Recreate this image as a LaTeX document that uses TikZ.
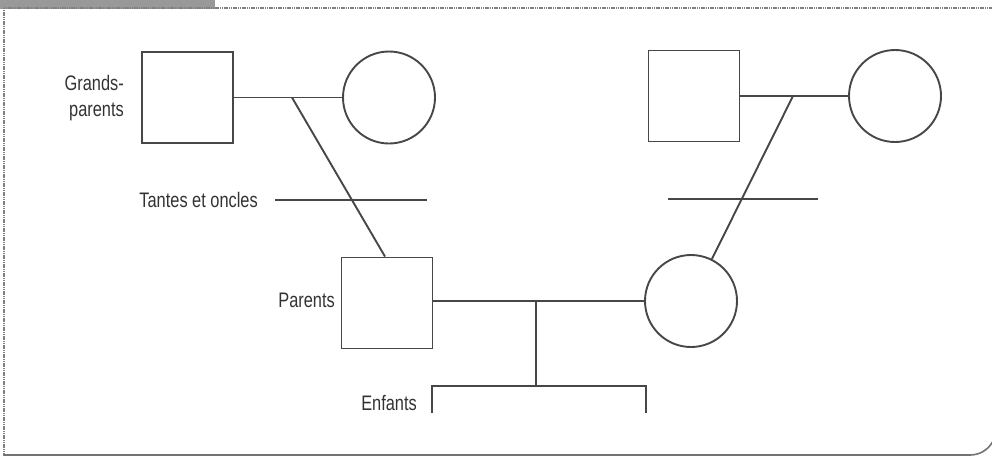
\documentclass[tikz,border=0pt]{standalone}
\usepackage{fontspec}
\setmainfont[FakeStretch=0.78]{Liberation Sans}
\begin{document}
\begin{tikzpicture}[x=1pt,y=-1pt,
  link/.style={draw=black!72,line width=1.9pt},
  male/.style={rectangle,draw=black!72,line width=1.9pt,minimum size=91pt,inner sep=0pt},
  female/.style={circle,draw=black!72,line width=1.9pt,minimum size=92pt,inner sep=0pt},
  lbl/.style={font=\fontsize{21}{26}\selectfont,text=black!80,inner sep=0pt},
  frame/.style={draw=black!50,line width=2.2pt,dash pattern=on 1.2pt off 0.6pt}]
\useasboundingbox (0,0) rectangle (992,459);
% page frame and header band
\fill[black!40] (0,0) rectangle (215,9);
\draw[white,line width=1.4pt] (17,0) arc[start angle=180,end angle=250,radius=14];
\draw[frame] (4,8) -- (4,456);
\draw[frame] (4,8) -- (992,8);
\draw[draw=black!55,line width=1.6pt] (4,455) -- (970,455) arc[start angle=90,end angle=30,radius=26];

% grandparents, left couple
\node[male]   (g1) at (187.5,97.5) {};
\node[female] (g2) at (389,97.5) {};
\coordinate (j1) at (292,97.5);
\draw[link] (g1) -- (g2);
% grandparents, right couple
\node[male]   (g3) at (694,96) {};
\node[female] (g4) at (895,96) {};
\coordinate (j2) at (793,96);
\draw[link] (g3) -- (g4);

% parents
\node[male]   (p1) at (387,303) {};
\node[female] (p2) at (691,301) {};
\coordinate (j3) at (536,301);
\draw[link] (p1.east |- j3) -- (p2);
\draw[link] (j1) -- ([xshift=-2pt]p1.north);
\draw[link] (j2) -- (p2);

% aunts and uncles
\coordinate (a1) at (275,200);
\coordinate (a2) at (427,200);
\coordinate (a3) at (668,199);
\coordinate (a4) at (818,199);
\draw[link] (a1) -- (a2);
\draw[link] (a3) -- (a4);

% children
\coordinate (c1) at (432,386);
\coordinate (c2) at (646,386);
\coordinate (c1e) at (432,413);
\coordinate (c2e) at (646,413);
\draw[link] (j3) -- (j3 |- c1);
\draw[link] (c1e) -- (c1) -- (c2) -- (c2e);

% labels
\node[lbl,anchor=east,align=right] (tg) at (124,98) {Grands-\\parents};
\node[lbl,anchor=east] (tt) at (258,200) {Tantes et oncles};
\node[lbl,anchor=east] (tp) at (335,300) {Parents};
\node[lbl,anchor=east] (te) at (417,403) {Enfants};
\end{tikzpicture}
\end{document}
